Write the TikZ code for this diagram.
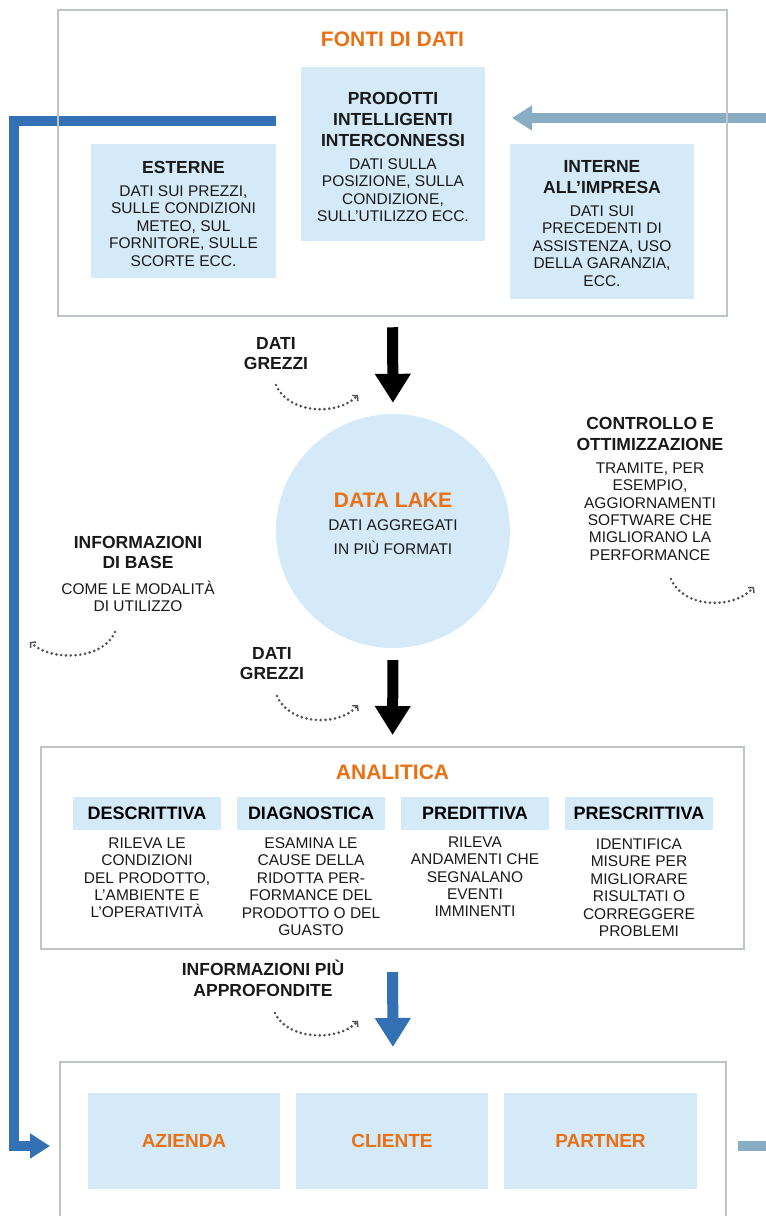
\documentclass[tikz,border=0pt]{standalone}
\usepackage{fontspec}
\setmainfont{Liberation Sans}
\usetikzlibrary{positioning, arrows.meta}

\definecolor{ordorange}{RGB}{234,112,20}
\definecolor{tileblue}{RGB}{213,234,248}
\definecolor{framegray}{RGB}{190,196,201}
\definecolor{loopblue}{RGB}{51,112,180}
\definecolor{loopsteel}{RGB}{136,174,198}
\definecolor{ink}{RGB}{25,25,25}
\definecolor{dotgray}{RGB}{80,80,80}

\tikzset{
  frame/.style={draw=framegray, line width=2.5pt, inner sep=0pt},
  tile/.style={fill=tileblue, inner sep=0pt, align=center},
  title/.style={text=ordorange, font=\fontsize{21}{25}\selectfont\bfseries},
  tag/.style={text=ordorange, font=\fontsize{19}{23}\selectfont\bfseries},
  hd/.style={text=ink, align=center, inner sep=0pt, font=\fontsize{17.5}{21}\selectfont\bfseries},
  txt/.style={text=ink, align=center, inner sep=0pt, font=\fontsize{15.5}{17.4}\selectfont},
  flow/.style={line width=11pt, -{Triangle[length=29pt,width=34pt]}},
  feed/.style={line width=10pt, -{Triangle[length=20pt,width=24pt]}},
  turn/.style={draw=dotgray, line width=2.9pt, line cap=round, dash pattern=on 0pt off 4.8pt,
    -{Straight Barb[length=3.5pt,width=8pt,line width=1.4pt]}}
}

\begin{document}
\begin{tikzpicture}[x=1pt, y=-1pt]
  \path[use as bounding box, clip] (0,0) rectangle (766,1216);

  % loops round the outside
  \coordinate (fbfrom) at (276,120.5);
  \coordinate (fbto) at (50,1146);
  \coordinate (sfrom) at (738,1145.5);
  \coordinate (sto) at (512,118);
  \draw[feed, draw=loopblue] (fbfrom) -| (14,1146) -- (fbto);
  \draw[feed, draw=loopsteel] (sfrom) -- (790,1145.5) |- (sto);

  % fonti di dati
  \node[frame, minimum width=669pt, minimum height=306pt] (fonti) at (392.5,163) {};
  \node[title] (fontiT) at (392.5,39) {FONTI DI DATI};
  \node[tile, minimum width=184pt, minimum height=174pt] (prod) at (393,154) {};
  \node[hd, anchor=north] (prodH) at (393,91.7) {PRODOTTI\\INTELLIGENTI\\INTERCONNESSI};
  \node[txt, anchor=north] (prodB) at (393,158.4) {DATI SULLA\\POSIZIONE, SULLA\\CONDIZIONE,\\SULL’UTILIZZO ECC.};
  \node[tile, minimum width=185pt, minimum height=134pt] (est) at (183.5,211) {};
  \node[hd, anchor=north] (estH) at (183.5,160.7) {ESTERNE};
  \node[txt, anchor=north] (estB) at (183.5,185.4) {DATI SUI PREZZI,\\SULLE CONDIZIONI\\METEO, SUL\\FORNITORE, SULLE\\SCORTE ECC.};
  \node[tile, minimum width=184pt, minimum height=155pt] (int) at (602,221.5) {};
  \node[hd, anchor=north] (intH) at (602,160.7) {INTERNE\\ALL’IMPRESA};
  \node[txt, anchor=north] (intB) at (602,205.4) {DATI SUI\\PRECEDENTI DI\\ASSISTENZA, USO\\DELLA GARANZIA,\\ECC.};

  % data lake
  \node[circle, fill=tileblue, minimum size=234pt, inner sep=0pt] (lake) at (393,531) {};
  \node[title] (lakeT) at (393,500) {DATA LAKE};
  \node[txt, anchor=north, font=\fontsize{15.5}{24}\selectfont] (lakeB) at (393,519.4) {DATI AGGREGATI\\IN PIÙ FORMATI};

  \node[hd, anchor=north, font=\fontsize{17.5}{20}\selectfont\bfseries] (grez1) at (276,337.7) {DATI\\GREZZI};
  \node[hd, anchor=north, font=\fontsize{17.5}{20}\selectfont\bfseries] (grez2) at (272,647.7) {DATI\\GREZZI};
  \node[hd, anchor=north] (ctrlH) at (650,416.7) {CONTROLLO E\\OTTIMIZZAZIONE};
  \node[txt, anchor=north] (ctrlB) at (650,462.4) {TRAMITE, PER\\ESEMPIO,\\AGGIORNAMENTI\\SOFTWARE CHE\\MIGLIORANO LA\\PERFORMANCE};
  \node[hd, anchor=north, font=\fontsize{17.5}{20}\selectfont\bfseries] (infoH) at (138,535.7) {INFORMAZIONI\\DI BASE};
  \node[txt, anchor=north] (infoB) at (138,580.5) {COME LE MODALITÀ\\DI UTILIZZO};

  % analitica
  \node[frame, minimum width=703pt, minimum height=202pt] (ana) at (392.5,848) {};
  \node[title] (anaT) at (392.5,772) {ANALITICA};
  \node[tile, font=\fontsize{18}{21}\selectfont\bfseries, minimum width=148pt, minimum height=33pt] (desc) at (147,813) {DESCRITTIVA};
  \node[tile, font=\fontsize{18}{21}\selectfont\bfseries, minimum width=148pt, minimum height=33pt] (diag) at (311,813) {DIAGNOSTICA};
  \node[tile, font=\fontsize{18}{21}\selectfont\bfseries, minimum width=148pt, minimum height=33pt] (pred) at (475,813) {PREDITTIVA};
  \node[tile, font=\fontsize{18}{21}\selectfont\bfseries, minimum width=148pt, minimum height=33pt] (pres) at (639,813) {PRESCRITTIVA};
  \node[txt, anchor=north] (descB) at (147,837.5) {RILEVA LE\\CONDIZIONI\\DEL PRODOTTO,\\L’AMBIENTE E\\L’OPERATIVITÀ};
  \node[txt, anchor=north] (diagB) at (311,837.5) {ESAMINA LE\\CAUSE DELLA\\RIDOTTA PER-\\FORMANCE DEL\\PRODOTTO O DEL\\GUASTO};
  \node[txt, anchor=north] (predB) at (475,836.5) {RILEVA\\ANDAMENTI CHE\\SEGNALANO\\EVENTI\\IMMINENTI};
  \node[txt, anchor=north] (presB) at (639,838.5) {IDENTIFICA\\MISURE PER\\MIGLIORARE\\RISULTATI O\\CORREGGERE\\PROBLEMI};

  \node[hd] (infoPiu) at (263,978.6) {INFORMAZIONI PIÙ\\APPROFONDITE};

  % destinatari
  \node[frame, minimum width=666pt, minimum height=188pt] (dest) at (393,1156) {};
  \node[tile, tag, minimum width=192pt, minimum height=96pt] (azienda) at (184,1141) {AZIENDA};
  \node[tile, tag, minimum width=192pt, minimum height=96pt] (cliente) at (392,1141) {CLIENTE};
  \node[tile, tag, minimum width=193pt, minimum height=96pt] (partner) at (600.5,1141) {PARTNER};

  % flussi
  \draw[flow, shorten <=10pt, shorten >=11pt] (fonti.south) -- (lake.north);
  \draw[flow, shorten <=12pt, shorten >=10.75pt] (lake.south) -- (ana.north);
  \draw[flow, draw=loopblue, shorten <=21.75pt, shorten >=13.75pt] (ana.south) -- (dest.north);

  \draw[turn] (276,385) .. controls (288,414) and (338,416) .. (358,395);
  \draw[turn] (277,696) .. controls (289,725) and (339,727) .. (358,705);
  \draw[turn] (275,1013) .. controls (287,1040) and (338,1042) .. (358,1021);
  \draw[turn] (671,579) .. controls (683,608) and (733,610) .. (754,587);
  \draw[turn] (115,632) .. controls (103,660) and (52,662) .. (30,642);
\end{tikzpicture}
\end{document}
